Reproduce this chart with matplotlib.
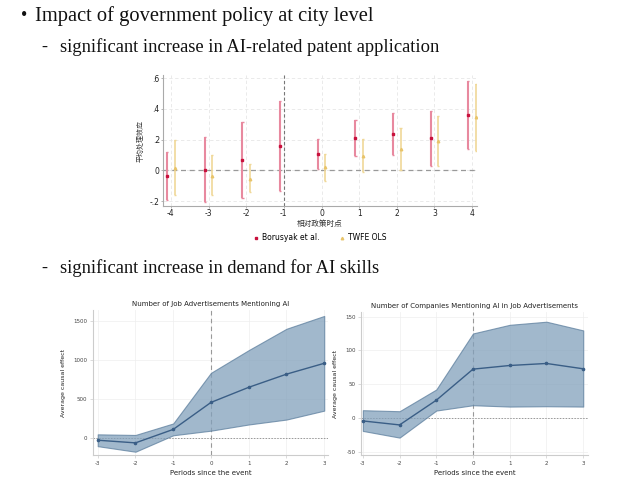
import matplotlib
matplotlib.use("Agg")
import matplotlib.pyplot as plt
import numpy as np

plt.rcParams["axes.unicode_minus"] = False

# ---- data: patent chart ----
periods1 = [-4, -3, -2, -1, 0, 1, 2, 3, 4]
bor_est = [-0.039, 0.004, 0.065, 0.158, 0.108, 0.210, 0.236, 0.208, 0.359]
bor_lo = [-0.195, -0.205, -0.182, -0.132, 0.011, 0.093, 0.099, 0.028, 0.136]
bor_hi = [0.119, 0.218, 0.316, 0.448, 0.205, 0.329, 0.372, 0.385, 0.584]
twfe_periods = [-4, -3, -2, 0, 1, 2, 3, 4]
twfe_est = [0.015, -0.035, -0.054, 0.019, 0.093, 0.140, 0.190, 0.344]
twfe_lo = [-0.162, -0.162, -0.140, -0.069, -0.013, 0.000, 0.030, 0.128]
twfe_hi = [0.197, 0.097, 0.039, 0.104, 0.201, 0.277, 0.355, 0.562]
yticks1 = [-0.2, 0, 0.2, 0.4, 0.6]
yticklabels1 = ["-.2", "0", ".2", ".4", ".6"]

# ---- data: job ads chart ----
periods2 = [-3, -2, -1, 0, 1, 2, 3]
jobs_est = [-25, -59, 113, 458, 651, 819, 958]
jobs_lo = [-101, -172, 38, 97, 176, 239, 353]
jobs_hi = [50, 42, 189, 836, 1126, 1399, 1563]

# ---- data: companies chart ----
comp_est = [-4.5, -10.4, 26.2, 72.3, 77.7, 80.7, 72.8]
comp_lo = [-19.3, -29.2, 10.9, 18.8, 16.8, 17.3, 16.8]
comp_hi = [11.4, 9.9, 42.1, 125.2, 138.0, 142.6, 129.7]

W, H = 640, 480
fig = plt.figure(figsize=(6.4, 4.8), dpi=100)
fig.patch.set_facecolor("white")

def ax_px(l, t, r, b):
    return fig.add_axes([l / W, 1 - b / H, (r - l) / W, (b - t) / H])

serif = ["Liberation Serif", "DejaVu Serif"]
tc = "#111111"
fig.text(21 / W, 1 - 16 / H, "\u2022", family=serif, fontsize=13, va="center", ha="left", color=tc)
fig.text(35 / W, 1 - 16 / H, "Impact of government policy at city level",
         family=serif, fontsize=14.8, va="center", ha="left", color=tc)
fig.text(41 / W, 1 - 47 / H, "-", family=serif, fontsize=13.3, va="center", color=tc)
fig.text(60 / W, 1 - 47 / H, "significant increase in AI-related patent application",
         family=serif, fontsize=13.3, va="center", color=tc)
fig.text(41 / W, 1 - 268 / H, "-", family=serif, fontsize=13.3, va="center", color=tc)
fig.text(60 / W, 1 - 268 / H, "significant increase in demand for AI skills",
         family=serif, fontsize=13.3, va="center", color=tc)

cjk = ["Noto Sans CJK SC", "DejaVu Sans"]
grid_c = "#e6e6e6"

# ---- chart 1 ----
ax1 = ax_px(163, 75, 477, 206)
red = "#c8103c"
red_bar = "#e8899f"
yel = "#e8c46a"
yel_bar = "#f0d898"
off = 0.1
x_b = np.array(periods1) - off
x_t = np.array(twfe_periods) + off
ax1.vlines(x_b, bor_lo, bor_hi, color=red_bar, lw=1.5, zorder=3)
ax1.hlines(bor_lo, x_b - 0.03, x_b + 0.03, color=red_bar, lw=1, zorder=3)
ax1.hlines(bor_hi, x_b - 0.03, x_b + 0.03, color=red_bar, lw=1, zorder=3)
ax1.plot(x_b, bor_est, "s", color=red, ms=1.8, zorder=4, label="Borusyak et al.")
ax1.vlines(x_t, twfe_lo, twfe_hi, color=yel_bar, lw=1.2, zorder=3)
ax1.hlines(twfe_lo, x_t - 0.03, x_t + 0.03, color=yel_bar, lw=1, zorder=3)
ax1.hlines(twfe_hi, x_t - 0.03, x_t + 0.03, color=yel_bar, lw=1, zorder=3)
ax1.plot(x_t, twfe_est, "^", color=yel, ms=1.8, zorder=4, label="TWFE OLS")
ax1.axhline(0, color="#999999", ls=(0, (4, 3)), lw=0.9, zorder=2)
ax1.axvline(-1, color="#777777", ls=(0, (3, 2)), lw=0.8, zorder=2)
ax1.set_xlim(-4.21, 4.13)
ax1.set_ylim(-0.232, 0.62)
ax1.set_xticks(periods1)
ax1.set_xticklabels([str(p) for p in periods1])
ax1.set_yticks(yticks1)
ax1.set_yticklabels(yticklabels1)
ax1.grid(True, color=grid_c, ls=(0, (4, 3)), lw=0.6)
ax1.set_axisbelow(True)
for s in ["top", "right"]:
    ax1.spines[s].set_visible(False)
for s in ["left", "bottom"]:
    ax1.spines[s].set_color("#aaaaaa")
    ax1.spines[s].set_linewidth(0.8)
ax1.tick_params(labelsize=5.5, length=1.5, width=0.6, color="#aaaaaa", pad=0.8, labelcolor="#222222")
ax1.set_xlabel("相对政策时点", family=cjk, fontsize=5.5, labelpad=1.5, color="#333333")
ax1.set_ylabel("平均处理效应", family=cjk, fontsize=5, labelpad=4, color="#333333")
ax1.legend(loc="upper center", bbox_to_anchor=(0.5, -0.155), ncol=2, frameon=False,
           fontsize=5.5, handlelength=0.8, handletextpad=0.4, columnspacing=2.5, markerscale=1.0)

# ---- charts 2 and 3 ----
fill_c = "#82a0bb"
edge_c = "#5d7f9e"
line_c = "#3a5e86"

def event_plot(ax, est, lo, hi, title, xlim, ylim, yticks):
    ax.fill_between(periods2, lo, hi, facecolor=fill_c, edgecolor=edge_c, alpha=0.75, lw=0.8, zorder=2)
    ax.plot(periods2, est, "-o", color=line_c, lw=1.0, ms=1.6, zorder=3)
    ax.axhline(0, color="#999999", ls=(0, (1.5, 1.5)), lw=0.7, zorder=1)
    ax.axvline(0, color="#999999", ls=(0, (4, 3)), lw=0.8, zorder=1)
    ax.set_xlim(*xlim)
    ax.set_ylim(*ylim)
    ax.set_xticks(periods2)
    ax.set_yticks(yticks)
    ax.grid(True, color="#eeeeee", lw=0.5)
    ax.set_axisbelow(True)
    for s in ["top", "right"]:
        ax.spines[s].set_visible(False)
    for s in ["left", "bottom"]:
        ax.spines[s].set_color("#cccccc")
        ax.spines[s].set_linewidth(0.8)
    ax.tick_params(labelsize=4, length=2, width=0.5, color="#cccccc", pad=2, labelcolor="#444444")
    ax.set_title(title, fontsize=5, pad=3, color="#222222")
    ax.set_xlabel("Periods since the event", fontsize=5, labelpad=3, color="#222222")
    ax.set_ylabel("Average causal effect", fontsize=4.5, labelpad=5, color="#222222")

ax2 = ax_px(93, 310, 328, 455)
event_plot(ax2, jobs_est, jobs_lo, jobs_hi, "Number of Job Advertisements Mentioning AI",
           (-3.125, 3.1), (-214, 1639), [0, 500, 1000, 1500])

ax3 = ax_px(361, 312, 588, 455)
event_plot(ax3, comp_est, comp_lo, comp_hi, "Number of Companies Mentioning AI in Job Advertisements",
           (-3.05, 3.13), (-55, 157), [-50, 0, 50, 100, 150])

fig.savefig("out.png", dpi=100, facecolor="white")
